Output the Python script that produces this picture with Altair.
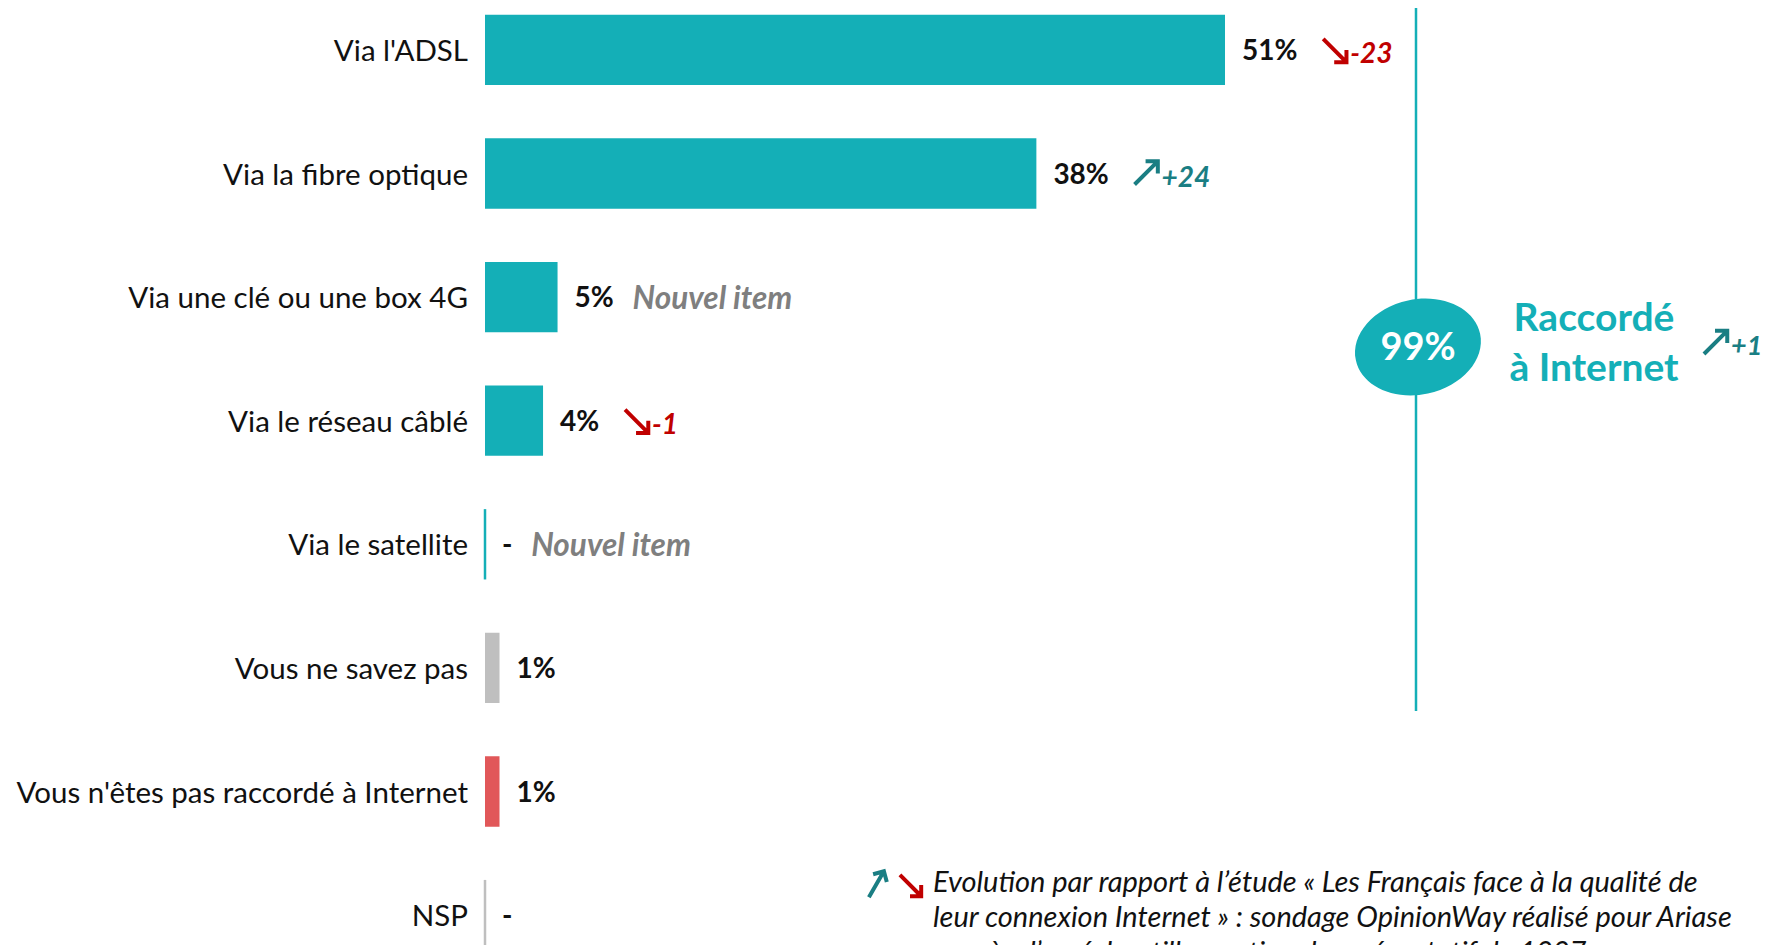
import altair as alt
import pandas as pd

# ---------------- data ----------------
categories = [
    "Via l'ADSL",
    "Via la fibre optique",
    "Via une clé ou une box 4G",
    "Via le réseau câblé",
    "Via le satellite",
    "Vous ne savez pas",
    "Vous n'êtes pas raccordé à Internet",
    "NSP",
]
values = [51, 38, 5, 4, 0, 1, 1, 0]
value_labels = ["51%", "38%", "5%", "4%", "-", "1%", "1%", "-"]
changes = ["-23", "+24", "Nouvel item", "-1", "Nouvel item", "", "", ""]
groups = ["connected"] * 5 + ["unknown", "not_connected", "unknown"]

total_connected = "99%"
total_title = ["Raccordé", "à Internet"]
total_change = "+1"
footnote_lines = [
    "Evolution par rapport à l’étude « Les Français face à la qualité de",
    "leur connexion Internet » : sondage OpinionWay réalisé pour Ariase",
    "auprès d’un échantillon national représentatif de 1007",
]

# ---------------- styling ----------------
TEAL = "#14AFB7"
DARK_TEAL = "#1A7E83"
RED = "#C00000"
GRAY_TXT = "#7F7F7F"
FONT = "Lato"

W, H = 1285, 937
X_MAX = 88.56
STEP = 123.6
Y0 = -0.339
Y1 = Y0 + H / STEP
PX = W / X_MAX
HALF = 0.2845

CHAR_W = {"%": 21.8, "-": 9.2}

ARROW_DOWN = "M-0.9,-0.9 L0.85,0.85 M1,0 L1,1 L0,1"
ARROW_UP = "M-0.9,0.9 L0.85,-0.85 M0,-1 L1,-1 L1,0"


def label_px(s):
    return sum(CHAR_W.get(c, 16.2) for c in s)


def change_kind(c):
    if c.startswith("-"):
        return "down"
    if c.startswith("+"):
        return "up"
    if c:
        return "new"
    return "none"


df = pd.DataFrame(
    {
        "category": categories,
        "value": values,
        "label": value_labels,
        "change": changes,
        "group": groups,
    }
)
df["row"] = range(len(df))
df["zero"] = 0
df["y_top"] = df["row"] - HALF
df["y_bot"] = df["row"] + HALF
df["change_kind"] = [change_kind(c) for c in changes]
df["change_x"] = [
    v + (17 + label_px(l) + (20 if k == "new" else 26)) / PX
    for v, l, k in zip(values, value_labels, df["change_kind"])
]
df["arrow_x"] = df["change_x"] + 12 / PX

x_scale = alt.Scale(domain=[0, X_MAX], nice=False, zero=False)
y_scale = alt.Scale(domain=[Y0, Y1], reverse=True, nice=False, zero=False)

color_scale = alt.Scale(
    domain=["connected", "unknown", "not_connected"],
    range=[TEAL, "#BFBFBF", "#E15759"],
)

base = alt.Chart(df)
X0 = alt.X("zero:Q", scale=x_scale, axis=None)
YROW = alt.Y("row:Q", scale=y_scale, axis=None)

bars = base.mark_rect().encode(
    x=X0,
    x2="value:Q",
    y=alt.Y("y_top:Q", scale=y_scale, axis=None),
    y2="y_bot:Q",
    color=alt.Color("group:N", scale=color_scale, legend=None),
)

zero_rules = base.transform_filter("datum.value == 0").mark_rule(strokeWidth=2.5).encode(
    x=X0,
    y=alt.Y("y_top:Q", scale=y_scale, axis=None),
    y2="y_bot:Q",
    color=alt.Color("group:N", scale=color_scale, legend=None),
)

cat_labels = base.mark_text(
    align="right", baseline="middle", dx=-17, dy=2, font=FONT, fontSize=29.5, color="#111111"
).encode(x=X0, y=YROW, text="category:N")

val_labels = base.mark_text(
    align="left", baseline="middle", dx=17, dy=2, font=FONT, fontSize=28,
    fontWeight="bold", color="#111111",
).encode(x=alt.X("value:Q", scale=x_scale, axis=None), y=YROW, text="label:N")

CX = alt.X("change_x:Q", scale=x_scale, axis=None)
AX = alt.X("arrow_x:Q", scale=x_scale, axis=None)


def arrow_layer(kind, shape, color):
    return base.transform_filter(f"datum.change_kind == '{kind}'").mark_point(
        shape=shape, filled=False, size=600, strokeWidth=4, color=color, opacity=1,
    ).encode(x=AX, y=YROW)


def number_layer(kind, color):
    return base.transform_filter(f"datum.change_kind == '{kind}'").mark_text(
        align="left", baseline="middle", dx=28, dy=5, font=FONT, fontSize=28,
        fontWeight="bold", fontStyle="italic", color=color,
    ).encode(x=CX, y=YROW, text="change:N")


down_arrows = arrow_layer("down", ARROW_DOWN, RED)
up_arrows = arrow_layer("up", ARROW_UP, DARK_TEAL)
down_nums = number_layer("down", RED)
up_nums = number_layer("up", DARK_TEAL)
new_items = base.transform_filter("datum.change_kind == 'new'").mark_text(
    align="left", baseline="middle", dy=3, font=FONT, fontSize=31.5,
    fontWeight="bold", fontStyle="italic", color=GRAY_TXT,
).encode(x=CX, y=YROW, text="change:N")

one = pd.DataFrame({"k": [0]})

vline = alt.Chart(one).mark_rule(color=TEAL, strokeWidth=2.5).encode(
    x=alt.value(931), y=alt.value(0), y2=alt.value(703)
)

ELLIPSE = "M-1,0 A1,0.75 0 1,0 1,0 A1,0.75 0 1,0 -1,0 Z"
ellipse = alt.Chart(one).mark_point(
    shape=ELLIPSE, filled=True, size=127 * 127, color=TEAL, opacity=1, angle=348
).encode(x=alt.value(933), y=alt.value(339))

total_txt = alt.Chart(pd.DataFrame({"t": [total_connected]})).mark_text(
    align="center", baseline="middle", font=FONT, fontSize=38, fontWeight="bold", color="white"
).encode(x=alt.value(933), y=alt.value(341), text="t:N")

title1 = alt.Chart(pd.DataFrame({"t": [total_title[0]]})).mark_text(
    align="center", baseline="middle", font=FONT, fontSize=39, fontWeight="bold", color=TEAL
).encode(x=alt.value(1109), y=alt.value(311), text="t:N")

title2 = alt.Chart(pd.DataFrame({"t": [total_title[1]]})).mark_text(
    align="center", baseline="middle", font=FONT, fontSize=39, fontWeight="bold", color=TEAL
).encode(x=alt.value(1109), y=alt.value(361), text="t:N")

total_arrow = alt.Chart(one).mark_point(
    shape=ARROW_UP, filled=False, size=600, strokeWidth=4, color=DARK_TEAL, opacity=1
).encode(x=alt.value(1230), y=alt.value(335))

total_chg = alt.Chart(pd.DataFrame({"t": [total_change]})).mark_text(
    align="left", baseline="middle", font=FONT, fontSize=27, fontWeight="bold",
    fontStyle="italic", color=DARK_TEAL,
).encode(x=alt.value(1246), y=alt.value(339), text="t:N")

fn_up = alt.Chart(one).mark_point(
    shape=ARROW_UP, filled=False, size=500, strokeWidth=4, color=DARK_TEAL, opacity=1, angle=345
).encode(x=alt.value(391), y=alt.value(877))

fn_down = alt.Chart(one).mark_point(
    shape=ARROW_DOWN, filled=False, size=500, strokeWidth=4, color=RED, opacity=1
).encode(x=alt.value(425), y=alt.value(877))

fn_layers = []
for i, line in enumerate(footnote_lines):
    fn_layers.append(
        alt.Chart(pd.DataFrame({"t": [line]})).mark_text(
            align="left", baseline="middle", font=FONT, fontSize=29,
            fontStyle="italic", color="#111111",
        ).encode(x=alt.value(448), y=alt.value(875 + 35 * i), text="t:N")
    )

chart = alt.layer(
    bars, zero_rules, cat_labels, val_labels,
    down_arrows, up_arrows, down_nums, up_nums, new_items,
    vline, ellipse, total_txt, title1, title2, total_arrow, total_chg,
    fn_up, fn_down, *fn_layers,
).properties(
    width=W,
    height=H,
    autosize=alt.AutoSizeParams(type="none"),
    padding={"left": 477, "top": 0, "right": 0, "bottom": 0},
).resolve_scale(color="independent").configure_view(stroke=None)

chart.save("out.html", embed_options={"renderer": "svg", "actions": False})
